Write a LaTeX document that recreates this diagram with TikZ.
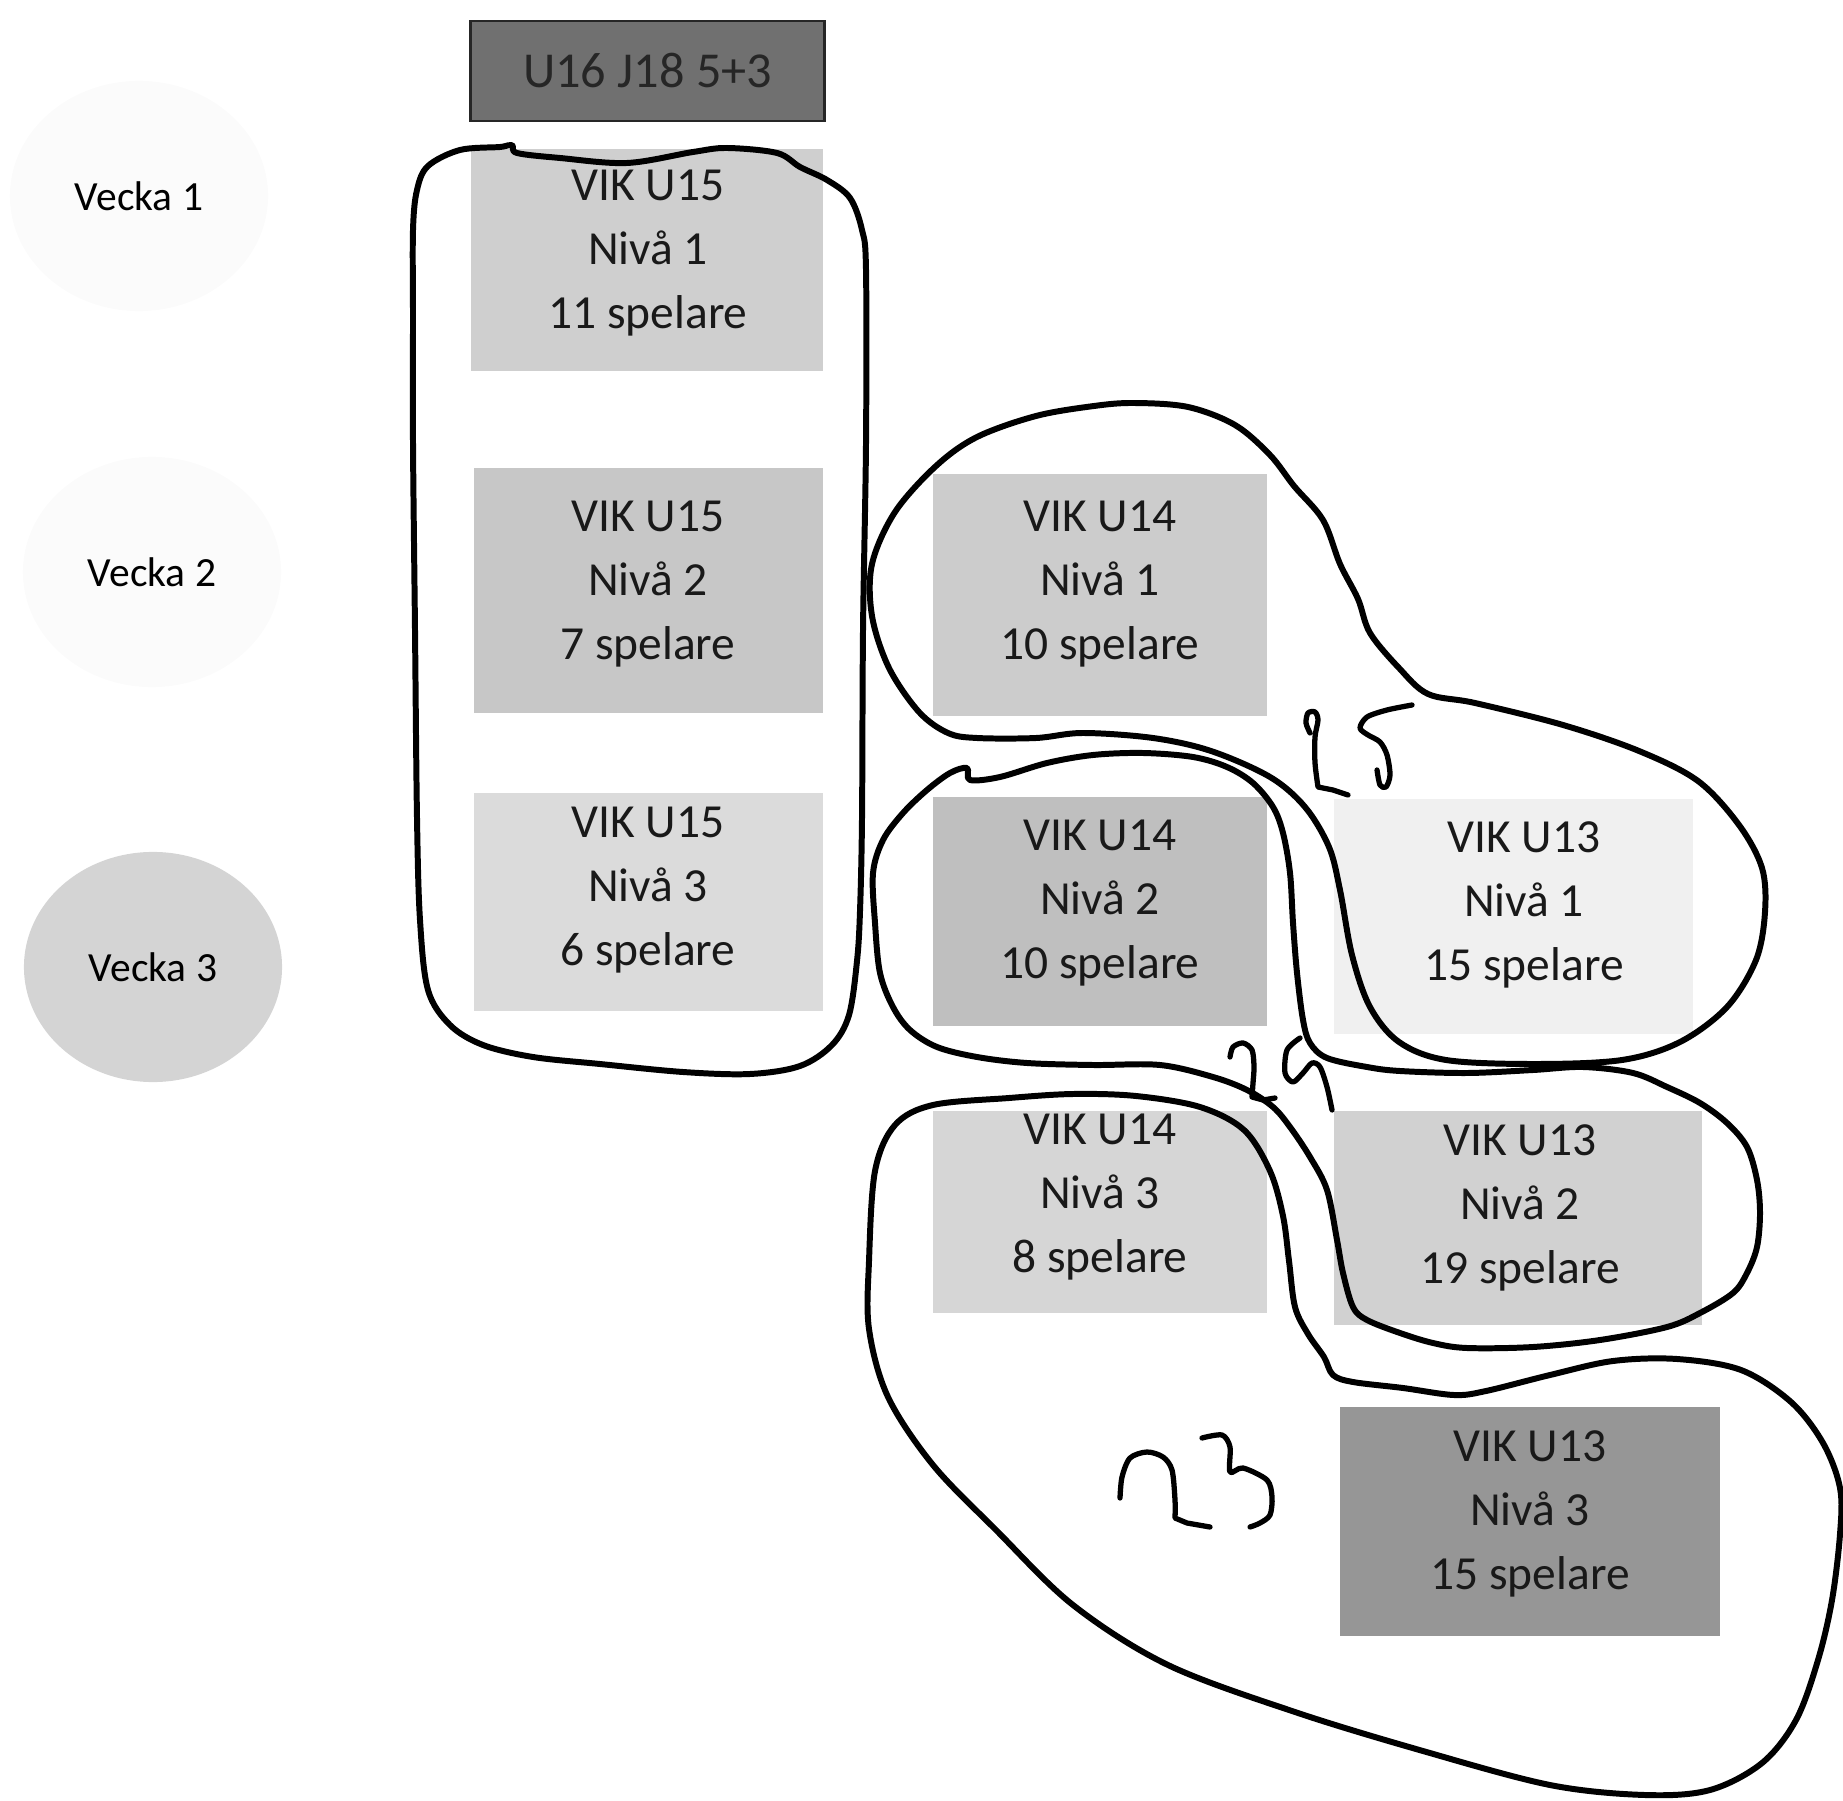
\documentclass[tikz,border=0pt]{standalone}
\usepackage{fontspec}
\setmainfont{Carlito}
\usetikzlibrary{shapes.geometric}

\begin{document}
\begin{tikzpicture}[x=0.01cm,y=-0.01cm,
  lag/.style={rectangle,inner sep=0pt},
  lagtext/.style={align=center,font=\fontsize{13.5}{18.3}\selectfont,text=black!90},
  vecka/.style={ellipse,inner sep=0pt,minimum width=2.58cm,minimum height=2.3cm,font=\fontsize{11.8}{14}\selectfont},
  ring/.style={line width=1.7pt,line join=round},
  siffra/.style={line width=1.5pt,line cap=round,line join=round}]
  \useasboundingbox (0,0) rectangle (1843,1801);
  % veckor
  \node[vecka,fill=black!1.5] (v1) at (139,196) {Vecka 1};
  \node[vecka,fill=black!1.5] (v2) at (152,572) {Vecka 2};
  \node[vecka,fill=black!17] (v3) at (153,967) {Vecka 3};
  % lagrutor
  \node[lag,fill=black!56,draw=black!85,line width=0.8pt,minimum width=3.53cm,minimum height=1cm,
    font=\fontsize{14.3}{16}\selectfont,text=black!85] (topp) at (647.5,71) {U16 J18 5+3};
  \foreach \nm/\cx/\cy/\w/\h/\g in {u15a/647/260/3.52/2.22/19, u15b/648.5/590.5/3.49/2.45/22,
      u15c/648.5/902/3.49/2.18/14, u14a/1100/595/3.34/2.42/20, u14b/1100/911.5/3.34/2.29/25,
      u14c/1100/1212/3.34/2.02/16, u13a/1513.5/916.5/3.59/2.35/6, u13b/1518/1218/3.68/2.14/18,
      u13c/1530/1521.5/3.80/2.29/41}
    \node[lag,fill=black!\g,minimum width=\w cm,minimum height=\h cm] (\nm) at (\cx,\cy) {};
  \foreach \nm/\cx/\cy/\u/\n/\a in {u15a/648/253/15/1/11, u15b/648/584/15/2/7, u15c/648/890/15/3/6,
      u14a/1100/584/14/1/10, u14b/1100/903/14/2/10, u14c/1100/1197/14/3/8,
      u13a/1524/905/13/1/15, u13b/1520/1208/13/2/19, u13c/1530/1514/13/3/15}
    \node[lagtext] (t\nm) at (\cx,\cy) {VIK U\u\\Nivå \n\\\a\ spelare};
  % ringar (handritade)
  \draw[ring] plot[smooth cycle,tension=0.55] coordinates {(417,190) (428,166) (460,150) (500,147)
    (512,145) (517,153) (560,158) (627,163) (693,152) (727,148) (777,153) (800,167) (827,180)
    (850,198) (862,230) (866,270) (866,443) (863,630) (862,818) (860,911) (857,961) (849,1015)
    (832,1045) (800,1066) (750,1074) (683,1072) (600,1064) (533,1057) (483,1045) (450,1025)
    (428,990) (420,920) (417,818) (415,630) (413,443) (413,318) (413,230)};
  \draw[ring] plot[smooth cycle,tension=0.55] coordinates {(948,733) (977,738) (1036,738) (1083,733)
    (1153,738) (1211,751) (1270,777) (1305,807) (1329,847) (1340,890) (1352,955) (1370,1007)
    (1399,1042) (1446,1060) (1534,1064) (1622,1060) (1680,1042) (1727,1007) (1756,960) (1765,912)
    (1762,868) (1739,825) (1698,781) (1639,751) (1563,725) (1475,703) (1428,694) (1399,668)
    (1370,633) (1358,599) (1340,564) (1323,520) (1294,486) (1270,455) (1235,425) (1188,407)
    (1134,403) (1094,406) (1036,416) (977,437) (936,466) (895,512) (872,564) (872,616) (889,668)
    (919,712)};
  \draw[ring] plot[smooth cycle,tension=0.55] coordinates {(873,873) (883,840) (903,813) (927,790)
    (950,773) (967,768) (970,780) (1000,777) (1047,763) (1093,755) (1143,753) (1193,757) (1227,767)
    (1253,783) (1273,807) (1283,833) (1290,873) (1293,923) (1297,973) (1303,1020) (1310,1043)
    (1327,1058) (1367,1067) (1400,1071) (1467,1073) (1533,1070) (1583,1067) (1633,1073) (1667,1087)
    (1700,1103) (1727,1123) (1747,1147) (1757,1180) (1760,1213) (1757,1247) (1747,1273) (1733,1293)
    (1700,1313) (1667,1327) (1600,1340) (1533,1347) (1467,1348) (1433,1343) (1400,1333) (1367,1320)
    (1353,1307) (1343,1273) (1337,1240) (1327,1190) (1310,1157) (1290,1127) (1273,1107) (1247,1090)
    (1213,1077) (1160,1065) (1093,1065) (1027,1063) (977,1057) (937,1047) (910,1030) (893,1007)
    (880,973) (875,923)};
  \draw[ring] plot[smooth cycle,tension=0.55] coordinates {(875,1171) (895,1125) (933,1105)
    (1009,1098) (1073,1094) (1136,1096) (1200,1107) (1244,1130) (1270,1171) (1283,1216) (1289,1261)
    (1295,1307) (1308,1334) (1324,1357) (1333,1375) (1353,1382) (1403,1388) (1454,1395) (1486,1391)
    (1550,1375) (1613,1361) (1677,1359) (1741,1370) (1791,1402) (1823,1443) (1840,1488) (1840,1534)
    (1832,1600) (1818,1660) (1796,1720) (1762,1763) (1710,1790) (1645,1795) (1550,1785) (1423,1751)
    (1295,1712) (1168,1665) (1073,1605) (996,1530) (933,1465) (888,1397) (869,1329) (869,1261)};
  % summor
  \draw[siffra] plot[smooth,tension=0.5] coordinates {(1310,733) (1306,723) (1308,713) (1315,712)
    (1318,720) (1315,737) (1315,763) (1318,787)} -- (1333,790) -- (1348,795);
  \draw[siffra] plot[smooth,tension=0.5] coordinates {(1412,705) (1387,710) (1367,717) (1360,728)
    (1368,735) (1380,742) (1387,755) (1390,775) (1386,787) (1380,785) (1377,770)};
  \draw[siffra] plot[smooth,tension=0.5] coordinates {(1230,1057) (1233,1047) (1243,1043)
    (1252,1050) (1254,1067) (1253,1083) (1252,1097)} -- (1263,1100) -- (1275,1098);
  \draw[siffra] plot[smooth,tension=0.5] coordinates {(1300,1038) (1287,1050) (1285,1073) (1293,1082)
    (1303,1073) (1312,1063) (1320,1067) (1327,1087) (1332,1110)};
  \draw[siffra] plot[smooth,tension=0.5] coordinates {(1120,1498) (1122,1477) (1130,1458) (1147,1452)
    (1163,1457) (1172,1470) (1175,1500) (1175,1518)} -- (1187,1523) -- (1210,1527);
  \draw[siffra] plot[smooth,tension=0.5] coordinates {(1202,1438) (1222,1435) (1230,1447) (1230,1472)
    (1243,1468) (1267,1480) (1272,1497) (1270,1515) (1260,1523) (1250,1527)};
\end{tikzpicture}
\end{document}
